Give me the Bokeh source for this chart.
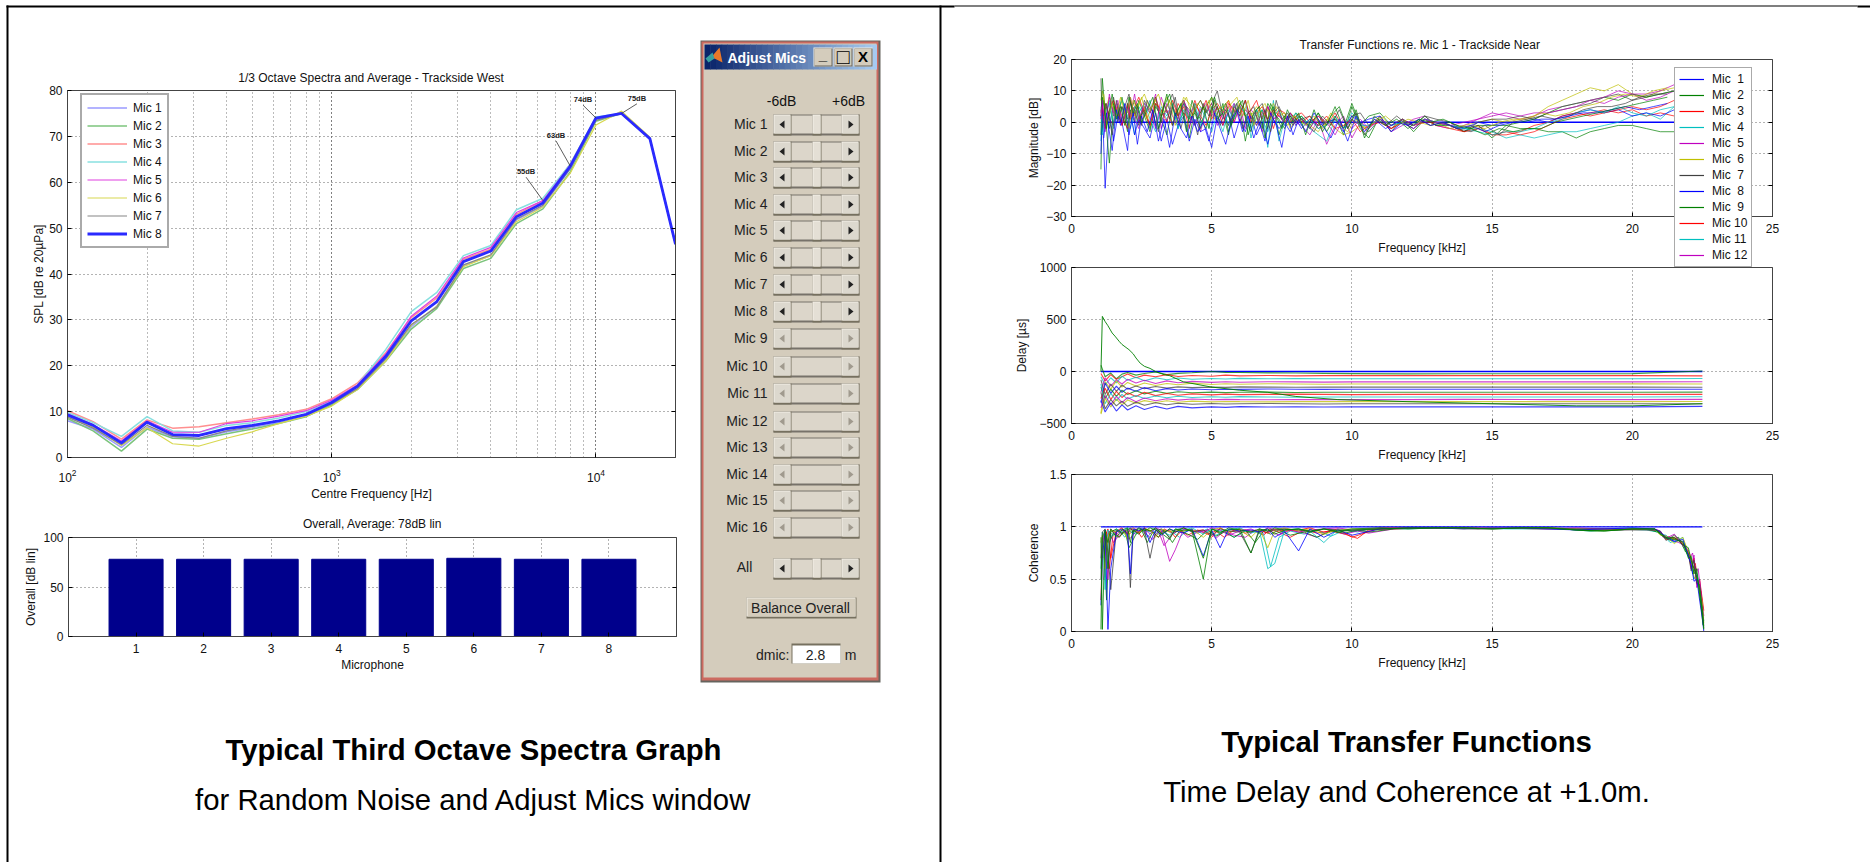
from bokeh.embed import file_html
from bokeh.resources import INLINE
from bokeh.plotting import figure
from bokeh.models import Range1d, Legend, LegendItem, FixedTicker, Column, LinearAxis
from bokeh.core.properties import value

# ---------- data ----------
FREQ_HZ = [100,125,160,200,250,315,400,500,630,800,1000,1250,1600,2000,2500,3150,4000,5000,6300,8000,10000,12500,16000,20000]
SPL_M1 = [8,6.2,2.2,6.6,4.5,4.2,5.6,6.5,7.6,9,11.6,15,21.5,28.5,33,41.8,44,51.8,54.8,63,73.8,75,69.5,46.5]
SPL_M2 = [8.5,5.8,1.4,6.2,4.2,4,5.2,6.2,7.4,8.9,11.5,14.8,21,28,32.5,41.2,43.4,51,54.2,62.3,73.3,75,69.5,46.5]
SPL_M3 = [10.2,7.8,4,8.2,6.4,6.7,7.6,8.4,9.3,10.5,12.8,16.2,22.8,30.5,34.8,43.2,45.4,53,56,64,74,75,69.5,46.5]
SPL_M4 = [9.8,7.6,4.6,8.9,5.8,5.5,7,7.6,8.6,10,12.3,15.8,23.5,31.8,36,44,46.2,54,56.5,64,74.2,75,69.5,46.5]
SPL_M5 = [9.5,7.2,3.6,8,5.5,5.5,7.4,8,9,10.2,12.5,15.8,22.5,30.8,35.2,43.5,45.8,53.4,56,63.8,74,75,69.5,46.5]
SPL_M6 = [9,6.6,2.6,6.5,3,2.5,4.2,5.6,7.4,9,11.2,14.8,21,28.8,33,41.6,44,51.4,54.6,62,72.5,75.5,69.8,46.5]
SPL_M7 = [8.8,6.4,2.8,7,4.6,4.2,5.8,6.8,8,9.4,11.8,15,21.5,29,32.8,42,44.2,52,55,63,73.5,75,69.5,46.5]
SPL_M8 = [9.3,7,3.2,7.7,5,4.8,6.3,7,8,9.4,12,15.5,22,29.8,34,42.7,45,52.5,55.5,63.5,74,75,69.5,46.5]
SPL_ALL = [SPL_M1,SPL_M2,SPL_M3,SPL_M4,SPL_M5,SPL_M6,SPL_M7,SPL_M8]
SPL_NAMES = ["Mic 1","Mic 2","Mic 3","Mic 4","Mic 5","Mic 6","Mic 7","Mic 8"]
PEAK_LABELS = ["55dB","63dB","74dB","75dB"]
PEAK_F = [6300,8000,10000,12500]
PEAK_V = [56,63.5,74,75]
PEAK_LABEL_F = [5440,7060,8935,14290]
PEAK_LABEL_V = [62.3,70.2,78,78.3]

MICS = [1,2,3,4,5,6,7,8]
OVERALL = [78,78,78,78,78,79,78,78]

MAG_F = [1.05,1.1,1.2,1.35,1.5,1.65,1.8,2.0,2.1,2.25,2.4,2.6,2.8,3.0,3.2,3.4,3.6,3.8,4.0,4.2,4.4,4.6,4.8,5.0,5.2,5.4,5.6,5.8,6.0,6.2,6.4,6.6,6.8,7.0,7.2,7.4,7.6,7.8,8.0,
         8.2,8.5,8.8,9.1,9.4,9.7,10,10.3,10.6,11,11.4,11.8,12.2,12.6,13,13.5,14,14.5,15,15.5,16,16.5,17,17.5,18,18.5,19,19.5,20,20.5,21,21.5,22,22.5]
MAG_X_F = [1.15,1.25,1.45,1.6,1.75,1.9,2.05,2.2,2.35,2.5,2.7,2.9,3.1,3.3,3.5,3.7,3.9,4.1,4.3,4.5,4.7,4.9,5.1,5.3,5.5,5.7,5.9,6.1,6.3,6.5,6.7,6.9,7.1,7.3,7.5,7.7,7.9,8.1,
           8.35,8.65,8.95,9.25,9.55,9.85,10.15,10.45,10.8,11.2,11.6,12,12.4,12.8,13.25,13.75,14.25,14.75,15.25,15.75,16.25,16.75,17.25,17.75,18.25,18.75,19.25,19.75,20.25,20.75,21.25]
MAG_1_F = [1.05,22.5]
MAG_1 = [0,0]
MAG_2 = [-15,8,3,-2,6,1,5,-3,4,0,7,2,-3,6,1,-4,5,0,3,-5,4,1,-2,5,0,6,-3,2,5,-6,3,-1,4,-2,5,-4,2,-1,3,
         1,-2,3,-3,2,-4,5,-2,-5,2,-3,1,-3,1,-1,0,-2,-1,-5,-1,-2,-2,-3,-3,-5,-3,-2,-1,-1,-2,-3,-3,1,5]
MAG_3 = [4,-2,6,1,-1,5,2,-2,7,3,0,5,-1,8,2,4,-1,6,3,1,7,2,-1,4,6,3,7,0,5,2,4,7,1,5,-2,4,3,0,2,
         3,0,2,-1,3,-2,1,-1,-3,1,-2,0,-2,1,-1,-2,-3,-1,-4,-3,-4,-3,-1,1,2,3,4,3,4,2,3,2,5,9]
MAG_4 = [-6,5,1,7,-2,4,0,6,3,-4,5,2,7,-1,4,1,5,-2,6,3,-1,5,1,-3,3,5,-1,6,2,7,-5,2,4,-8,7,-6,1,3,-1,
         2,-2,-4,-6,1,-2,3,0,-3,1,-1,0,-1,1,0,-1,-2,-2,-3,-5,-4,-5,-4,-3,-3,-2,-1,0,2,3,1,5,6,7]
MAG_5 = [3,7,-3,9,2,6,-1,4,8,1,-2,5,3,9,-2,6,2,-1,7,3,5,-3,4,6,-1,3,5,0,6,-2,4,2,-3,5,1,3,-1,2,0,
         -1,-4,1,-7,-1,2,-5,0,-2,2,-3,-1,1,2,-1,-2,-1,1,3,2,1,2,4,5,6,7,6,8,9,7,8,10,11,12]
MAG_6 = [7,10,4,8,5,2,7,3,8,2,6,9,4,7,3,8,5,2,8,6,4,7,3,8,4,5,7,3,6,4,2,5,3,1,6,2,3,-2,1,
         0,-1,-3,1,-2,-4,-3,-1,-2,2,-1,1,-1,1,0,-2,-1,0,1,0,1,2,5,7,9,11,10,12,9,8,10,11,13,12]
MAG_7 = [14,-3,6,2,8,0,5,1,6,4,-1,7,3,8,0,5,9,2,6,0,4,7,3,6,10,2,-1,5,3,7,1,4,6,0,3,5,1,2,0,
         1,2,-2,0,1,-2,2,3,-1,1,-2,1,-1,2,1,0,-3,0,1,1,2,1,3,4,5,6,8,9,7,8,9,10,12,11]
MAG_8 = [-10,6,-21,3,-6,2,0,-9,3,-4,1,-2,-5,3,-6,1,-7,-1,2,-6,1,-3,-2,-8,2,-1,3,-5,1,-3,2,-4,0,-7,1,-2,0,-3,1,
         -2,1,-1,0,1,-3,2,0,1,2,-3,0,-2,1,0,-1,-2,0,-1,0,0,1,0,2,3,4,3,4,2,3,2,4,6,7]
MAG_9 = [-4,14,3,-13,5,2,8,-1,3,7,1,4,-2,5,2,9,-1,4,7,1,3,-2,5,8,1,3,-4,5,7,2,-3,4,-2,6,3,1,-2,3,1,
         2,-1,3,-1,5,-2,6,-1,2,3,-1,1,-1,2,-1,-1,-3,-1,-1,-1,0,1,3,5,6,7,8,7,9,8,9,10,11,11]
MAG_10 = [2,5,-2,4,7,3,-1,6,1,5,8,3,-1,6,4,0,7,2,5,-2,6,3,7,1,5,-1,6,4,2,7,0,3,5,1,4,2,0,3,1,
          0,2,-1,2,-2,-1,1,-3,-1,0,-2,0,-1,0,0,-1,-3,-2,-4,-4,-3,-1,0,2,3,2,3,4,5,4,5,7,9,10]
MAG_11 = [5,-4,3,6,0,4,7,2,-2,5,3,6,1,-3,5,2,6,-2,4,1,6,-1,3,5,2,-3,4,1,5,3,-2,4,1,-3,2,4,-1,1,3,
          -1,1,-2,-1,2,-2,1,-1,-1,1,-1,0,-1,1,0,-1,-2,-3,-4,-3,-3,-2,0,1,3,4,3,5,3,2,4,5,6,7]
MAG_12 = [1,6,-1,8,3,7,0,5,2,9,1,6,4,-2,8,3,5,1,7,2,-1,4,6,2,5,1,3,6,0,4,2,-1,3,5,1,2,0,3,-1,
          1,-2,2,0,-4,1,-2,1,-2,1,-1,1,-1,1,0,-1,0,1,2,3,2,3,3,4,5,7,8,10,9,9,10,12,12,12]
MAG_13 = [9,-1,6,2,8,3,-2,7,4,8,1,6,9,3,7,-1,5,8,2,6,4,7,1,5,3,6,8,2,7,-1,4,6,1,5,3,-1,2,1,-1,2,-2,3,-1,-3,1,-2,0,2,-1,1,0,-1,0,-2,-1,-2,0,1,1,3,2,3,5,6,8,9,8,10,11]
MAG_14 = [2,6,-4,7,0,5,9,2,5,-1,7,3,-3,6,1,8,-2,5,3,-4,6,2,7,-1,4,0,6,-2,3,5,-1,4,-3,7,1,3,-1,2,0,-3,2,-1,4,-2,3,-4,1,-1,2,-1,1,-1,0,-2,-3,-1,-4,0,1,2,1,2,4,5,5,6,8,9,9]
MAG_15 = [-5,3,-9,4,-1,6,-4,3,-7,2,-3,4,-6,1,-8,3,-2,-5,2,-3,0,-6,3,-2,-7,1,4,-3,2,-5,0,-6,3,-1,-8,2,-4,1,-3,3,-1,-5,1,-6,2,-3,1,-2,0,-1,1,-1,0,-2,-1,-3,-1,0,0,1,1,2,3,3,4,5,4,5,6]
MAG_16 = [7,-2,9,1,5,-1,8,3,6,0,4,8,-2,5,9,2,6,-3,7,1,5,-2,8,2,6,-1,4,7,-4,3,5,-5,6,2,-2,4,0,3,-4,4,-3,2,5,-2,4,-5,2,-1,1,-2,1,0,1,-1,-2,-4,-2,-3,-2,-2,0,1,2,3,4,5,6,7,8]
MAG_ALL = [MAG_2,MAG_3,MAG_4,MAG_5,MAG_6,MAG_7,MAG_8,MAG_9,MAG_10,MAG_11,MAG_12]
MAG_EXTRA = [MAG_13,MAG_14,MAG_15,MAG_16]
TF_NAMES = ["Mic  1","Mic  2","Mic  3","Mic  4","Mic  5","Mic  6","Mic  7","Mic  8","Mic  9","Mic 10","Mic 11","Mic 12"]

DLY_F = [1.05,1.2,1.4,1.6,1.8,2.0,2.3,2.6,3,3.4,3.8,4.3,5,5.5,6,7,8,9,10,12,14,17,20,22.5]
DLY_1_F = [1.05,22.5]
DLY_1 = [0,0]
DLY_2 = [60,-50,-15,-70,-25,-10,-35,-20,-5,-30,-18,-12,0,-8,-10,-13,-15,-18,-20,-23,-22,-22,-20,5]
DLY_3 = [-20,-90,-30,-75,-50,-25,-60,-35,-50,-30,-48,-38,-45,-35,-42,-38,-42,-40,-40,-40,-40,-40,-40,-42]
DLY_4 = [-50,-130,-60,-110,-45,-85,-55,-90,-60,-80,-62,-75,-68,-72,-66,-70,-68,-70,-70,-70,-70,-70,-70,-68]
DLY_5 = [-200,-60,-140,-80,-120,-75,-110,-85,-115,-90,-108,-95,-105,-98,-103,-98,-100,-102,-100,-100,-100,-100,-100,-98]
DLY_6 = [-400,-100,-170,-90,-150,-105,-140,-110,-135,-115,-128,-112,-125,-118,-122,-118,-120,-122,-120,-120,-120,-120,-118,-120]
DLY_7 = [-80,-220,-120,-190,-130,-170,-140,-165,-145,-160,-148,-155,-150,-153,-148,-150,-152,-150,-150,-150,-150,-150,-150,-152]
DLY_8 = [-300,-110,-210,-140,-200,-160,-190,-155,-185,-165,-178,-168,-175,-170,-172,-168,-170,-172,-170,-170,-170,-170,-170,-170]
DLY_9 = [-150,-260,-170,-240,-180,-220,-185,-215,-190,-210,-195,-205,-198,-203,-200,-198,-202,-200,-200,-200,-200,-200,-200,-198]
DLY_10 = [-260,-160,-270,-190,-250,-205,-240,-200,-232,-212,-228,-215,-225,-218,-222,-220,-218,-220,-222,-220,-220,-220,-220,-220]
DLY_11 = [-120,-310,-210,-280,-220,-265,-230,-260,-235,-252,-238,-250,-243,-247,-242,-245,-247,-245,-245,-245,-245,-245,-245,-243]
DLY_12 = [-350,-230,-320,-240,-300,-250,-290,-255,-282,-262,-275,-265,-272,-268,-270,-272,-270,-270,-270,-270,-268,-270,-270,-268]
DLY_13 = [-410,-260,-340,-265,-320,-275,-305,-280,-298,-282,-295,-285,-292,-288,-290,-292,-290,-290,-290,-290,-290,-290,-290,-288]
DLY_14 = [-200,-360,-270,-330,-285,-335,-295,-325,-300,-320,-305,-315,-308,-312,-310,-308,-310,-312,-310,-310,-310,-310,-310,-310]
DLY_15 = [-280,-390,-300,-380,-320,-370,-330,-365,-335,-360,-335,-350,-340,-345,-338,-342,-340,-342,-340,-340,-340,-340,-340,-335]
DLY_16_F = [1.05,1.1,1.2,1.3,1.45,1.55,1.7,1.8,2.05,2.2,2.3,2.45,2.6,2.8,3,3.3,3.5,4,5,6,7,8,9.5,12,15,18,20,22.5]
DLY_16 = [0,530,480,440,370,340,290,260,210,170,130,80,50,30,0,-30,-40,-100,-150,-180,-200,-240,-270,-290,-310,-330,-330,-310]
DLY_ALL = [DLY_2,DLY_3,DLY_4,DLY_5,DLY_6,DLY_7,DLY_8,DLY_9,DLY_10,DLY_11,DLY_12,DLY_13,DLY_14,DLY_15]

COH_F = [1.05,1.1,1.2,1.3,1.4,1.6,1.8,2.0,2.1,2.2,2.4,2.6,2.8,3.0,3.2,3.5,3.7,4.0,4.3,4.7,5.0,5.3,5.6,6.0,6.4,6.7,7.0,7.25,7.6,8.1,8.5,9.0,9.5,10,11,12,13,14,15,16,17,18,19,20,20.8,21,21.2,21.5,21.8,22,22.1,22.2,22.3,22.4,22.5,22.55]
COH_X_F = [1.15,1.25,1.35,1.5,1.7,1.9,2.05,2.3,2.5,2.7,2.9,3.1,3.3,3.6,3.85,4.15,4.5,4.85,5.15,5.45,5.8,6.2,6.55,6.85,7.1,7.4,7.8,8.3,8.75,9.25,9.75,10.2,10.6,11.5,12.5,13.5,14.5,15.5,16.5,17.5,18.5,19.5,20.5,20.9,21.1,21.35,21.65,21.9,22.05,22.15,22.25,22.35,22.45,22.52]
COH_1_F = [1.05,22.5]
COH_1 = [1,1]
COH_2 = [.02,.9,.97,.6,.95,.98,.93,.97,.99,.95,.98,.96,.99,.97,.93,.98,.95,.99,.96,.5,.98,.94,.99,.97,.95,.98,.96,.99,.97,.98,.95,.98,.96,.98,.99,.98,.99,.99,.98,.99,.99,.97,.96,.98,.98,.94,.9,.88,.86,.7,.72,.55,.6,.35,.15,.02]
COH_3 = [.3,.8,.92,.98,.7,.96,.99,.93,.98,.97,.94,.99,.96,.98,.95,.97,.9,.98,.96,.97,.9,.99,.95,.98,.96,.97,.94,.98,.96,.97,.99,.95,.98,.9,.99,.99,.99,.99,.99,.99,.99,.98,.98,.98,.97,.95,.88,.9,.84,.75,.6,.7,.45,.5,.3,.2]
COH_4 = [.6,.95,.4,.97,.9,.98,.95,.99,.96,.93,.99,.97,.95,.98,.96,.92,.98,.97,.99,.93,.98,.96,.97,.99,.94,.97,.6,.65,.97,.98,.96,.85,.98,.96,.99,.98,.99,.99,.99,.99,.99,.98,.98,.99,.97,.93,.92,.85,.9,.72,.66,.5,.55,.4,.2,.1]
COH_5 = [.7,.85,.95,.5,.98,.93,.97,.95,.98,.99,.96,.98,.93,.99,.97,.67,.78,.98,.96,.95,.99,.97,.92,.96,.98,.95,.99,.97,.98,.95,.97,.98,.99,.97,.99,.99,.99,.99,.99,.99,.98,.99,.98,.98,.98,.96,.89,.93,.82,.78,.62,.73,.42,.5,.25,.15]
COH_6 = [.85,.92,.6,.9,.97,.95,.98,.88,.96,.99,.95,.98,.97,.9,.98,.95,.97,.96,.98,.9,.97,.99,.95,.97,.9,.98,.8,.97,.99,.96,.98,.93,.97,.98,.98,.99,.99,.98,.99,.99,.99,.98,.97,.98,.98,.92,.91,.84,.9,.76,.7,.52,.5,.38,.28,.08]
COH_7 = [.5,.95,.98,.75,.4,.97,.94,.98,.42,.96,.99,.97,.7,.96,.98,.9,.97,.99,.95,.97,.92,.98,.96,.95,.75,.98,.96,.97,.98,.97,.95,.98,.97,.96,.98,.99,.99,.99,.98,.99,.99,.98,.98,.97,.97,.96,.87,.92,.85,.74,.58,.68,.46,.45,.22,.05]
COH_8 = [.25,.7,.97,.02,.6,.95,.98,.93,.55,.98,.96,.99,.85,.97,.92,.98,.96,.94,.98,.72,.97,.8,.98,.96,.97,.95,.98,.9,.96,.77,.98,.9,.97,.92,.98,.99,.99,.98,.99,.99,.98,.97,.98,.99,.98,.95,.9,.86,.88,.72,.64,.48,.5,.3,.12,.0]
COH_9 = [.9,.02,.95,.85,.98,.9,.97,.99,.85,.97,.93,.98,.96,.99,.94,.88,.98,.96,.97,.7,.98,.95,.97,.98,.75,.96,.98,.93,.97,.98,.96,.98,.95,.97,.98,.99,.99,.99,.98,.99,.99,.97,.96,.98,.98,.93,.89,.9,.83,.8,.68,.6,.52,.42,.18,.03]
COH_10 = [.7,.95,.6,.97,.9,.96,.93,.98,.9,.97,.95,.9,.98,.94,.97,.92,.97,.93,.96,.9,.97,.94,.96,.92,.98,.95,.9,.97,.94,.96,.93,.89,.97,.98,.99,.99,.99,.99,.98,.98,.97,.98,.98,.96,.92,.9,.87,.8,.74,.6,.65,.42,.38,.2]
COH_11 = [.8,.6,.95,.92,.97,.9,.96,.93,.98,.9,.96,.93,.97,.95,.9,.97,.94,.98,.92,.96,.9,.96,.95,.93,.62,.9,.96,.93,.97,.91,.97,.95,.98,.99,.99,.99,.99,.98,.98,.98,.96,.98,.97,.95,.92,.85,.88,.78,.68,.58,.6,.5,.3,.12]
COH_12 = [.5,.9,.96,.85,.92,.97,.88,.95,.97,.92,.88,.96,.82,.93,.97,.9,.95,.97,.89,.96,.92,.9,.97,.94,.96,.92,.97,.94,.9,.97,.93,.96,.94,.98,.99,.99,.98,.99,.99,.98,.97,.97,.98,.97,.9,.88,.85,.82,.7,.75,.55,.6,.35,.22]
COH_13 = [.92,.3,.85,.94,.9,.97,.8,.93,.97,.85,.95,.9,.97,.85,.96,.93,.88,.97,.91,.95,.9,.97,.85,.96,.93,.97,.92,.95,.9,.96,.94,.97,.95,.98,.99,.99,.98,.99,.99,.98,.96,.97,.98,.95,.91,.87,.9,.76,.72,.55,.62,.45,.25,.06]
COH_ALL = [COH_3,COH_4,COH_5,COH_6,COH_7,COH_8,COH_2,COH_9]
COH_COLORS_IDX = [2,3,4,5,6,0,1,1]
COH_EXTRA = [COH_10,COH_11,COH_12,COH_13]
COH_EXTRA_IDX = [2,3,4,1]

SLIDER_LABELS = ["Mic %d" % i for i in range(1,17)]

# ---------- styles ----------
FONT = "Liberation Sans"
SPL_COLORS = ["#9a9aff","#7cc47c","#ff8f8f","#88e0e0","#e040e0","#d8d850","#858585","#2a2aff"]
SPL_WIDTHS = [1.5,1.5,1.5,1.5,1.2,1.2,1.2,2.8]
CYCLE = ["#0000ff","#008000","#ff0000","#00bfbf","#bf00bf","#bfbf00","#404040"]

def panel(fl, ft, fw, fh, ml=70, mr=30, mt=5, mb=50, ylab=2, xlab=5, **kw):
    p = figure(width=fw+ml+mr, height=fh+mt+mb, min_border_left=ml, min_border_right=mr,
               min_border_top=mt, min_border_bottom=mb, toolbar_location=None, frame_align=False,
               output_backend="svg", background_fill_color="white", background_fill_alpha=1,
               border_fill_alpha=0, outline_line_color="#444444", **kw)
    p.styles = {"position": "absolute", "left": f"{fl-ml}px", "top": f"{ft-mt}px"}
    for ax in p.xaxis:
        ax.axis_label_standoff = xlab
    for ax in p.yaxis:
        ax.axis_label_standoff = ylab
    for ax in p.axis:
        ax.major_label_text_font = FONT
        ax.major_label_text_font_size = "12px"
        ax.major_label_text_color = "#111111"
        ax.axis_label_text_font = FONT
        ax.axis_label_text_font_style = "normal"
        ax.axis_label_text_font_size = "12px"
        ax.axis_label_text_color = "#111111"
        ax.axis_line_color = "#444444"
        ax.major_tick_in = 4
        ax.major_tick_out = 0
        ax.minor_tick_line_color = None
    for ax in p.yaxis:
        ax.major_label_standoff = 5
    for ax in p.xaxis:
        ax.major_label_standoff = 7
    for g in p.grid:
        g.grid_line_color = "#666666"
        g.grid_line_dash = "1 3"
        g.grid_line_width = 1
    return p

def right_ticks(p, ticks):
    ax = LinearAxis(ticker=FixedTicker(ticks=ticks), major_label_text_color=None, major_label_text_font_size="1px",
                    major_tick_in=4, major_tick_out=0, minor_tick_line_color=None, axis_line_color="#444444",
                    major_label_standoff=0)
    p.add_layout(ax, "right")

def bare(w, h, xr, yr, left, top):
    p = figure(width=w, height=h, x_range=xr, y_range=yr, toolbar_location=None, output_backend="svg",
               min_border_left=0, min_border_right=0, min_border_top=0, min_border_bottom=0,
               x_axis_location=None, y_axis_location=None, outline_line_color=None, frame_align=False,
               background_fill_alpha=0, border_fill_alpha=0)
    p.grid.visible = False
    p.styles = {"position": "absolute", "left": f"{left}px", "top": f"{top}px"}
    return p

# ---------- SPL spectra ----------
spl = panel(67, 90, 608, 367, ylab=0, xlab=2, x_axis_type="log", x_range=Range1d(100, 20000), y_range=Range1d(0, 80))
spl.xgrid.minor_grid_line_color = "#777777"
spl.xgrid.minor_grid_line_dash = "1 3"
spl.yaxis.ticker = FixedTicker(ticks=[0,10,20,30,40,50,60,70,80])
spl.xaxis.axis_label = "Centre Frequency [Hz]"
spl.yaxis.axis_label = "SPL [dB re 20\u00b5Pa]"
right_ticks(spl, [10,20,30,40,50,60,70])
spl_items = []
for name, vals, c, w in zip(SPL_NAMES, SPL_ALL, SPL_COLORS, SPL_WIDTHS):
    r = spl.line(FREQ_HZ, vals, line_color=c, line_width=w)
    spl_items.append(LegendItem(label=name, renderers=[r]))
spl_legend = Legend(items=spl_items, location=(13, 209), orientation="vertical",
                    label_text_font=FONT, label_text_font_size="12px", label_text_color="#111111",
                    label_height=15, glyph_height=15, glyph_width=40, spacing=3, padding=5, margin=0,
                    label_standoff=6, border_line_color="#555555", border_line_width=2,
                    background_fill_color="white", background_fill_alpha=1)
spl.add_layout(spl_legend)
for lab, f, v, lf, lv in zip(PEAK_LABELS, PEAK_F, PEAK_V, PEAK_LABEL_F, PEAK_LABEL_V):
    spl.line([lf, f], [lv - 1.2, v], line_color="#333333", line_width=0.8)
    spl.text([lf], [lv], text=[lab], text_font=value(FONT), text_font_size="7.5px", text_font_style="bold",
             text_align="center", text_baseline="middle", text_color="#222222")

# ---------- overall bars ----------
bar = panel(68, 537, 608, 99, ylab=2, xlab=2, x_range=Range1d(0, 9), y_range=Range1d(0, 100))
bar.vbar(x=MICS, top=OVERALL, width=0.8, bottom=0, fill_color="#00008c", line_color="#00008c")
bar.xaxis.ticker = FixedTicker(ticks=MICS)
bar.yaxis.ticker = FixedTicker(ticks=[0,50,100])
bar.xaxis.axis_label = "Microphone"
bar.yaxis.axis_label = "Overall [dB lin]"
right_ticks(bar, [50])

# ---------- transfer functions ----------
XT = FixedTicker(ticks=[0,5,10,15,20,25])
mag = panel(1071, 59, 701, 157, mb=50, mr=40, ylab=2, x_range=Range1d(0, 25), y_range=Range1d(-30, 20))
mag.xaxis.ticker = XT
mag.yaxis.ticker = FixedTicker(ticks=[-30,-20,-10,0,10,20])
mag.xaxis.axis_label = "Frequency [kHz]"
mag.yaxis.axis_label = "Magnitude [dB]"
right_ticks(mag, [-20,-10,0,10])
mag.line(MAG_1_F, MAG_1, line_color=CYCLE[0], line_width=1.4)
for i, vals in enumerate(MAG_ALL):
    mag.line(MAG_F[:len(vals)], vals[:len(MAG_F)], line_color=CYCLE[(i+1) % 7], line_width=0.7)
for i, vals in enumerate(MAG_EXTRA):
    mag.line(MAG_X_F[:len(vals)], vals[:len(MAG_X_F)], line_color=CYCLE[(i+12) % 7], line_width=0.7)

dly = panel(1071, 267, 701, 156, mr=40, ylab=7, x_range=Range1d(0, 25), y_range=Range1d(-500, 1000))
dly.xaxis.ticker = XT
dly.yaxis.ticker = FixedTicker(ticks=[-500,0,500,1000])
dly.xaxis.axis_label = "Frequency [kHz]"
dly.yaxis.axis_label = "Delay [\u00b5s]"
right_ticks(dly, [0,500])
dly.line(DLY_1_F, DLY_1, line_color=CYCLE[0], line_width=1.4)
for i, vals in enumerate(DLY_ALL):
    dly.line(DLY_F, vals, line_color=CYCLE[(i+1) % 7], line_width=1.1, line_alpha=0.75)
dly.line(DLY_16_F, DLY_16, line_color="#008000", line_width=0.9)

coh = panel(1071, 474, 701, 157, mr=40, ylab=6, x_range=Range1d(0, 25), y_range=Range1d(0, 1.5))
coh.xaxis.ticker = XT
coh.yaxis.ticker = FixedTicker(ticks=[0,0.5,1,1.5])
coh.xaxis.axis_label = "Frequency [kHz]"
coh.yaxis.axis_label = "Coherence"
right_ticks(coh, [0.5,1])
coh.line(COH_1_F, COH_1, line_color=CYCLE[0], line_width=1.4)
for vals, ci in zip(COH_EXTRA, COH_EXTRA_IDX):
    coh.line(COH_X_F[:len(vals)], vals[:len(COH_X_F)], line_color=CYCLE[ci], line_width=0.8)
for vals, ci in zip(COH_ALL, COH_COLORS_IDX):
    coh.line(COH_F, vals, line_color=CYCLE[ci], line_width=0.8)

# legend of the transfer functions: it hangs below the top axes, so it sits in its own small figure
leg = bare(90, 200, Range1d(1000, 1001), Range1d(0, 1), 1674, 67)
leg_items = []
for i, name in enumerate(TF_NAMES):
    series_y = MAG_1 if i == 0 else MAG_ALL[i-1]
    series_x = MAG_1_F if i == 0 else MAG_F[:len(series_y)]
    r = leg.line(series_x, series_y[:len(series_x)], line_color=CYCLE[i % 7], line_width=1.2)
    leg_items.append(LegendItem(label=name, renderers=[r]))
leg_legend = Legend(items=leg_items, location="top_left", orientation="vertical",
                    label_text_font=FONT, label_text_font_size="12px", label_text_color="#111111",
                    label_height=14, glyph_height=14, glyph_width=25, spacing=2, padding=4, margin=0,
                    label_standoff=8, border_line_color="#555555", border_line_width=1,
                    background_fill_color="white", background_fill_alpha=1)
leg.add_layout(leg_legend)

# ---------- page backdrop: table rules, titles, captions, Adjust Mics window ----------
bg = bare(1870, 862, Range1d(0, 1870), Range1d(862, 0), 0, 0)

def box(l, r, t, b, c):
    bg.quad(left=[l], right=[r], top=[t], bottom=[b], fill_color=c, line_color=None)

def txt(x, y, s, size="14px", color="#111111", align="center", style="normal"):
    bg.text([x], [y], text=[s], text_font=value(FONT), text_font_size=size, text_color=color,
            text_align=align, text_baseline="middle", text_font_style=style)

def tri(xs, ys, c):
    bg.patch(xs, ys, fill_color=c, line_color=None)

box(6, 954, 5, 7, "#000000")
box(954, 1857, 5, 6, "#000000")
box(1857, 1870, 5, 7, "#000000")
box(6, 8, 5, 862, "#000000")
box(939, 941, 5, 862, "#000000")

txt(371, 77, "1/3 Octave Spectra and Average - Trackside West", "12px")
txt(372, 523, "Overall, Average: 78dB lin", "12px")
txt(1421, 44, "Transfer Functions re. Mic  1 - Trackside Near", "12px")

CAP = "29.3px"
txt(473, 749, "Typical Third Octave Spectra Graph", CAP, "#000000", style="bold")
txt(473, 799, "for Random Noise and Adjust Mics window", CAP, "#000000")
txt(1406, 741, "Typical Transfer Functions", CAP, "#000000", style="bold")
txt(1406, 791, "Time Delay and Coherence at +1.0m.", CAP, "#000000")

FACE = "#d4ccbc"
box(700, 880, 40, 682, "#66645e")
box(701, 878, 41, 680, "#cc6a60")
box(703, 876, 43, 677, FACE)
STEPS = 30
for k in range(STEPS):
    t = k / (STEPS - 1)
    col = "#%02x%02x%02x" % (int(10 + t*156), int(36 + t*166), int(106 + t*134))
    box(704 + k*172/STEPS, 704 + (k+1)*172/STEPS + 0.5, 44, 69, col)
tri([708,719,722,714], [60,47,62,58], "#e8782a")
tri([705,712,714,708], [58,52,58,62], "#38a0a0")
txt(727, 57, "Adjust Mics", "14px", "white", "left", "bold")
for bl, sym in zip([813, 833, 853], ["_", "\u25a1", "X"]):
    box(bl, bl+19, 47, 66, "#f0ece4")
    box(bl+1, bl+19, 48, 66, "#6a665c")
    box(bl+1, bl+18, 48, 65, FACE)
    txt(bl+9.5, 56 if sym != "_" else 54, sym, "15px" if sym != "\u25a1" else "21px", "#000000", style="bold")

txt(781, 100, "-6dB")
txt(848, 100, "+6dB")
ROW_Y = [124,151,177,204,230,257,284,311,338,366,393,421,447,474,500,527]

def bevel(l, r, t, b, c=FACE):
    box(l, r, t, b, "#76705f")
    box(l, r-1, t, b-2, "#f4f0e8")
    box(l+1, r-1, t+1, b-2, c)

def slider(y, on):
    t, b = y-10, y+11
    box(773, 859, t, b, "#77726a")
    box(773, 859, t+1, b-2, "#dcd6ca")
    bevel(773, 791, t, b, "#dcd8ce")
    bevel(841, 859, t, b, "#dcd8ce")
    c = "#222222" if on else "#a09a8e"
    tri([779, 784, 784], [y, y-4, y+4], c)
    tri([853, 848, 848], [y, y-4, y+4], c)
    if on:
        bevel(812, 821, t, b, "#e4dfd5")

for i, (lab, y) in enumerate(zip(SLIDER_LABELS, ROW_Y)):
    txt(767, y-1, lab, "14px", "#222222", "right")
    slider(y, i < 8)
txt(744, 566, "All", "14px", "#222222")
slider(568, True)
bevel(746, 856, 597, 618)
txt(800, 607, "Balance Overall", "14px", "#222222")
txt(789, 654, "dmic:", "14px", "#222222", "right")
box(791, 840, 643, 663, "#76705f")
box(792, 840, 645, 663, "white")
txt(815, 654, "2.8", "14px", "#222222")
txt(850, 654, "m", "14px", "#222222")

root = Column(children=[bg, spl, bar, mag, dly, coh, leg], width=1870, height=862,
              styles={"position": "absolute", "left": "0px", "top": "0px"})
open("out.html", "w").write(file_html(root, INLINE))
